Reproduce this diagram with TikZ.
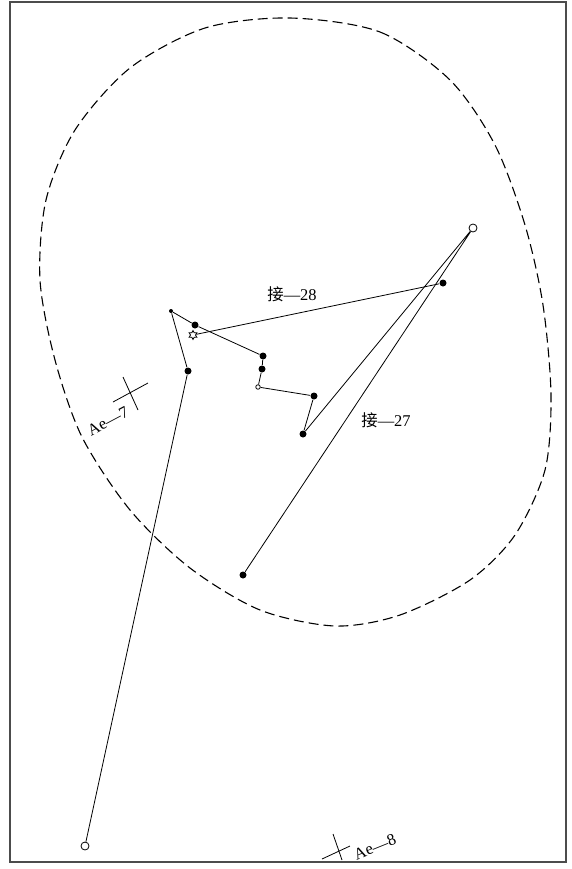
\documentclass[tikz,border=0pt]{standalone}
\usepackage{fontspec}
\setmainfont{Liberation Serif}
\newfontfamily\cjk{Noto Sans CJK SC}
\usetikzlibrary{shapes.geometric}
\tikzset{
  fulldot/.style={circle, fill=black, inner sep=0pt, minimum size=7bp},
  tipdot/.style={circle, fill=black, inner sep=0pt, minimum size=4bp},
  opendot/.style={circle, draw, fill=white, inner sep=0pt, minimum size=8bp},
  smallopen/.style={circle, draw, fill=white, inner sep=0pt, minimum size=4.5bp},
  starmark/.style={star, star points=6, star point ratio=1.8, draw, fill=white, inner sep=0pt, minimum size=9bp},
  lbl/.style={font=\fontsize{16.5}{18}\selectfont, inner sep=1pt}
}
\begin{document}
\begin{tikzpicture}[x=1bp, y=-1bp, line width=0.8bp]
    \useasboundingbox (0,0) rectangle (572,869);
    \draw[line width=1.4bp, black!70] (10,2) rectangle (566,862);
    % dashed boundary
    \draw[line width=1.1bp, dash pattern=on 10bp off 5bp] plot[smooth cycle] coordinates {
        (290,18) (380,32) (450,80) (495,145) (525,225) (543,305) (551,395)
        (545,470) (515,535) (470,580) (400,615) (335,626) (260,610) (190,568)
        (130,510) (82,437) (55,360) (40,280) (46,200) (75,130) (130,68) (205,28)};
    % points
    \node[opendot] (s0) at (85,846) {};
    \node[fulldot] (s1) at (188,371) {};
    \node[tipdot] (s2) at (171,311) {};
    \node[fulldot] (s3) at (195,325) {};
    \node[fulldot] (s4) at (263,356) {};
    \node[fulldot] (s5) at (262,369) {};
    \node[smallopen] (s6) at (258,387) {};
    \node[fulldot] (s7) at (314,396) {};
    \node[fulldot] (s8) at (303,434) {};
    \node[opendot] (s9) at (473,228) {};
    \node[fulldot] (s10) at (243,575) {};
    \node[starmark] (st) at (193,335) {};
    \node[fulldot] (e28) at (443,283) {};
    \draw (s0) -- (s1) -- (s2) -- (s3) -- (s4) -- (s5) -- (s6) -- (s7) -- (s8) -- (s9) -- (s10);
    \draw (st) -- (e28);
    % labels
    \node[lbl] (l28) at (292,294) {{\cjk 接}—28};
    \node[lbl] (l27) at (386,420) {{\cjk 接}—27};
    \node[lbl, rotate=28] (ae7) at (108,421) {Ae—7};
    \draw (123,377) -- (138,410);
    \draw (113,402) -- (148,383);
    \node[lbl, rotate=22] (ae8) at (375,847) {Ae—8};
    \draw (333,834) -- (342,860);
    \draw (322,859) -- (350,846);
\end{tikzpicture}
\end{document}
